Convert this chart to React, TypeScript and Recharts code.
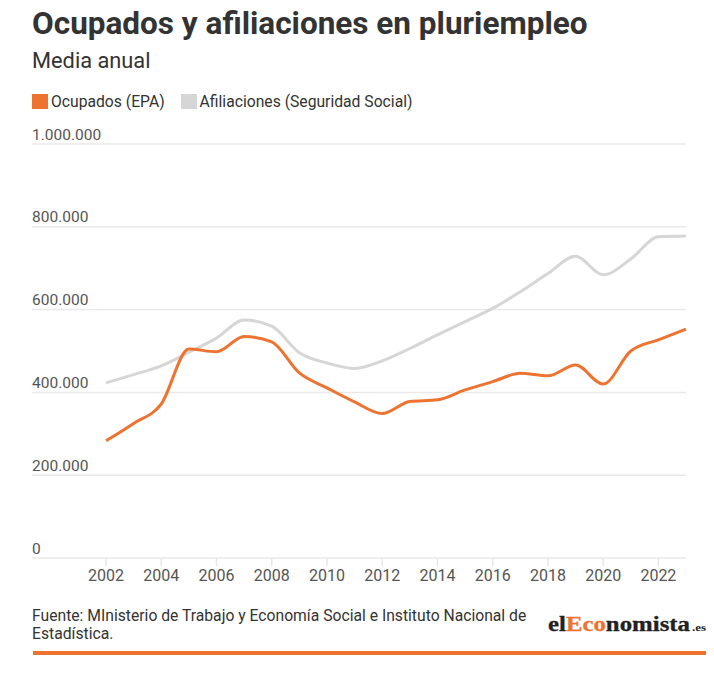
import { LineChart, Line, XAxis, YAxis, CartesianGrid } from "recharts";

const years = [2002, 2003, 2004, 2005, 2006, 2007, 2008, 2009, 2010, 2011, 2012, 2013, 2014, 2015, 2016, 2017, 2018, 2019, 2020, 2021, 2022, 2023];
const ocupados = [283000, 325000, 372000, 505000, 498000, 535000, 522000, 447000, 411000, 377000, 349000, 378000, 382000, 406000, 426000, 446000, 440000, 466000, 420000, 500000, 527000, 553000];
const afiliaciones = [423000, 443000, 464000, 497000, 531000, 575000, 560000, 496000, 471000, 458000, 476000, 506000, 539000, 571000, 603000, 643000, 687000, 729000, 684000, 722000, 776000, 778000];
const xTicks = [2002, 2004, 2006, 2008, 2010, 2012, 2014, 2016, 2018, 2020, 2022];
const yTicks = [0, 200000, 400000, 600000, 800000, 1000000];

const ORANGE = "#EE7331";
const GREY = "#D6D6D6";
const FONT = "Roboto, sans-serif";
const LEFT = 32;

const data = years.map((year, i) => ({
  year,
  ocupados: ocupados[i],
  afiliaciones: afiliaciones[i],
}));

const fmt = (v: number) => String(v).replace(/\B(?=(\d{3})+(?!\d))/g, ".");

const renderYTick = ({ y, payload }: any) => (
  <text key={payload.value} x={LEFT} y={y - 4.5} fill="#555" fontSize={15.5} fontFamily={FONT} textAnchor="start">
    {fmt(payload.value)}
  </text>
);

function LegendItem({ color, label }: { color: string; label: string }) {
  return (
    <div style={{ display: "flex", alignItems: "center", marginRight: 16 }}>
      <div style={{ width: 16, height: 15, background: color, marginRight: 3 }} />
      <span style={{ fontSize: 15.7, color: "#333", lineHeight: 1 }}>{label}</span>
    </div>
  );
}

export default function App() {
  return (
    <div style={{ position: "absolute", left: 0, top: 0, width: 714, height: 675, background: "#fff", fontFamily: FONT }}>
      <div style={{ position: "absolute", left: LEFT, top: 8, fontSize: 31.5, fontWeight: 700, color: "#333", lineHeight: 1, whiteSpace: "nowrap" }}>
        Ocupados y afiliaciones en pluriempleo
      </div>
      <div style={{ position: "absolute", left: LEFT, top: 50, fontSize: 21.8, color: "#333", lineHeight: 1 }}>
        Media anual
      </div>
      <div style={{ position: "absolute", left: LEFT, top: 94, display: "flex" }}>
        <LegendItem color={ORANGE} label="Ocupados (EPA)" />
        <LegendItem color={GREY} label="Afiliaciones (Seguridad Social)" />
      </div>

      <div style={{ position: "absolute", left: 0, top: 100 }}>
        <LineChart width={714} height={500} data={data} margin={{ top: 44, right: 28, bottom: 12, left: LEFT - 1 }}>
          <CartesianGrid vertical={false} stroke="#e9e9e9" strokeWidth={1.5} />
          <XAxis
            type="number"
            dataKey="year"
            domain={[2002, 2023]}
            ticks={xTicks}
            interval={0}
            padding={{ left: 74, right: 0 }}
            height={30}
            axisLine={false}
            tickSize={8}
            tickMargin={4}
            tickLine={{ stroke: "#e6e6e6", strokeWidth: 1.5 }}
            tick={{ fill: "#555", fontSize: 16, fontFamily: FONT }}
          />
          <YAxis
            type="number"
            domain={[0, 1000000]}
            ticks={yTicks}
            interval={0}
            width={1}
            axisLine={false}
            tickLine={false}
            tick={renderYTick}
          />
          <Line
            type="monotone"
            dataKey="afiliaciones"
            stroke={GREY}
            strokeWidth={3}
            dot={false}
            activeDot={false}
            isAnimationActive={false}
          />
          <Line
            type="monotone"
            dataKey="ocupados"
            stroke={ORANGE}
            strokeWidth={3}
            dot={false}
            activeDot={false}
            isAnimationActive={false}
          />
        </LineChart>
      </div>

      <div style={{ position: "absolute", left: LEFT, top: 606.5, fontSize: 15.7, lineHeight: "18px", color: "#333", whiteSpace: "nowrap" }}>
        Fuente: MInisterio de Trabajo y Economía Social e Instituto Nacional de
        <br />
        Estadística.
      </div>

      <svg style={{ position: "absolute", left: 540, top: 600 }} width={174} height={44}>
        <text x={8} y={30.5} fontFamily="'Liberation Serif', serif" fontWeight={700} fontSize={20} textLength={142} lengthAdjust="spacingAndGlyphs" stroke="#222" strokeWidth={0.3}>
          <tspan fill="#222">el</tspan>
          <tspan fill={ORANGE} stroke={ORANGE}>Eco</tspan>
          <tspan fill="#222">nomista</tspan>
        </text>
        <text x={152} y={30.5} fontFamily="'Liberation Serif', serif" fontWeight={700} fontSize={10} fill="#222" textLength={14} lengthAdjust="spacingAndGlyphs">
          .es
        </text>
      </svg>

      <div style={{ position: "absolute", left: 33, top: 651, width: 673, height: 4, background: ORANGE }} />
    </div>
  );
}
